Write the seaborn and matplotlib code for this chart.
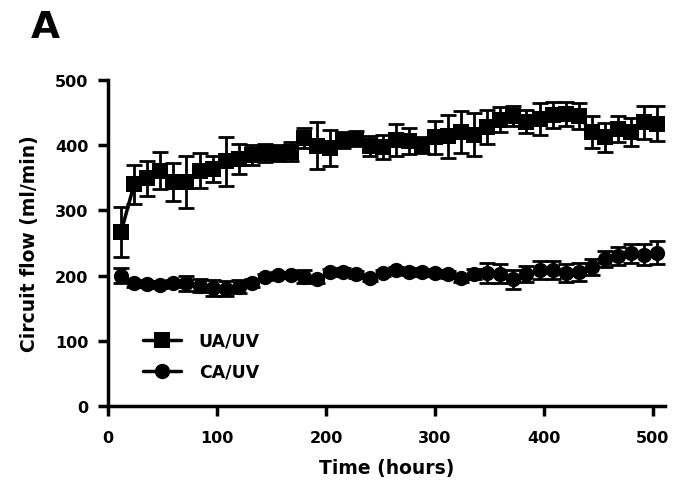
import numpy as np
import pandas as pd
import matplotlib
matplotlib.use("Agg")
import matplotlib.pyplot as plt
from matplotlib.lines import Line2D
import seaborn as sns

# Sampling times (hours)
hours = [12, 24, 36, 48, 60, 72, 84, 96, 108, 120, 132, 144, 156, 168,
         180, 192, 204, 216, 228, 240, 252, 264, 276, 288, 300, 312, 324, 336,
         348, 360, 372, 384, 396, 408, 420, 432, 444, 456, 468, 480, 492, 504]

# UA/UV circuit flow (ml/min), mean and SEM
ua_uv_mean = [267, 340, 349, 361, 343, 343, 361, 363, 375, 379, 385, 388, 388, 390,
              411, 399, 396, 408, 410, 399, 397, 408, 406, 400, 412, 414, 420, 416,
              428, 439, 445, 436, 440, 447, 448, 445, 420, 412, 425, 420, 435, 433]
ua_uv_err = [38, 30, 27, 28, 29, 40, 27, 20, 37, 23, 15, 14, 12, 15,
             16, 36, 28, 12, 12, 15, 18, 25, 20, 12, 25, 33, 32, 33,
             26, 19, 15, 18, 25, 20, 18, 20, 25, 22, 20, 22, 25, 27]

# CA/UV circuit flow (ml/min), mean and SEM
ca_uv_mean = [200, 188, 187, 186, 188, 188, 184, 181, 180, 183, 188, 198, 201, 201,
              198, 194, 205, 206, 202, 197, 204, 208, 206, 205, 204, 202, 196, 202,
              204, 203, 194, 202, 208, 209, 204, 206, 213, 225, 230, 234, 232, 235]
ca_uv_err = [12, 5, 5, 5, 5, 12, 10, 12, 12, 10, 6, 5, 5, 5,
             10, 6, 5, 5, 5, 5, 5, 5, 5, 5, 5, 5, 6, 8,
             15, 15, 14, 12, 14, 14, 14, 14, 12, 12, 14, 15, 16, 18]

series_names = ["UA/UV", "CA/UV"]
x_ticks = [0, 100, 200, 300, 400, 500]
y_ticks = [0, 100, 200, 300, 400, 500]

df = pd.concat([
    pd.DataFrame({"Time": hours, "Flow": ua_uv_mean, "Err": ua_uv_err, "Group": series_names[0]}),
    pd.DataFrame({"Time": hours, "Flow": ca_uv_mean, "Err": ca_uv_err, "Group": series_names[1]}),
], ignore_index=True)

sns.set_theme(style="ticks")
plt.rcParams["font.family"] = ["DejaVu Sans"]
plt.rcParams["font.weight"] = "bold"
for key in ["text.color", "axes.labelcolor", "xtick.color", "ytick.color", "axes.edgecolor"]:
    plt.rcParams[key] = "black"

fig = plt.figure(figsize=(6.75, 4.85), dpi=100)
ax = fig.add_axes([0.16, 0.161, 0.825, 0.672])

# error bars underneath the markers
for name in series_names:
    sub = df[df["Group"] == name]
    ax.errorbar(sub["Time"], sub["Flow"], yerr=sub["Err"], fmt="none",
                ecolor="black", elinewidth=2.0, capsize=6, capthick=2.0, zorder=2)

sns.lineplot(data=df, x="Time", y="Flow", hue="Group", style="Group",
             markers={"UA/UV": "s", "CA/UV": "o"}, dashes=False,
             palette={"UA/UV": "black", "CA/UV": "black"},
             markersize=11, markeredgewidth=0, linewidth=2.5,
             ax=ax, zorder=3, legend=False)

ax.set_xlim(0, 511)
ax.set_ylim(0, 500)
ax.set_xticks(x_ticks)
ax.set_yticks(y_ticks)
ax.tick_params(axis="both", length=7, width=2.5, labelsize=11.5, colors="black")
ax.tick_params(axis="x", pad=10)
ax.tick_params(axis="y", pad=7)
for lab in ax.get_xticklabels() + ax.get_yticklabels():
    lab.set_fontweight("bold")

for side in ["top", "right"]:
    ax.spines[side].set_visible(False)
for side in ["left", "bottom"]:
    ax.spines[side].set_linewidth(2.5)
    ax.spines[side].set_color("black")

ax.set_xlabel("Time (hours)", fontsize=13.5, fontweight="bold", labelpad=10, color="black")
ax.set_ylabel("Circuit flow (ml/min)", fontsize=13.5, fontweight="bold", labelpad=12, color="black")

# legend handles: line with marker
handles = [
    Line2D([], [], color="black", marker="s", markersize=11, linewidth=2.5, markeredgewidth=0),
    Line2D([], [], color="black", marker="o", markersize=11, linewidth=2.5, markeredgewidth=0),
]
leg = ax.legend(handles, series_names, loc="upper left", bbox_to_anchor=(0.035, 0.275),
                frameon=False, handlelength=2.2, handletextpad=1.0, labelspacing=0.75,
                prop={"weight": "bold", "size": 12.5})
for t in leg.get_texts():
    t.set_color("black")

fig.text(0.045, 0.922, "A", fontsize=27, fontweight="bold", ha="left", va="baseline", color="black")

fig.savefig("out.png", dpi=100)
